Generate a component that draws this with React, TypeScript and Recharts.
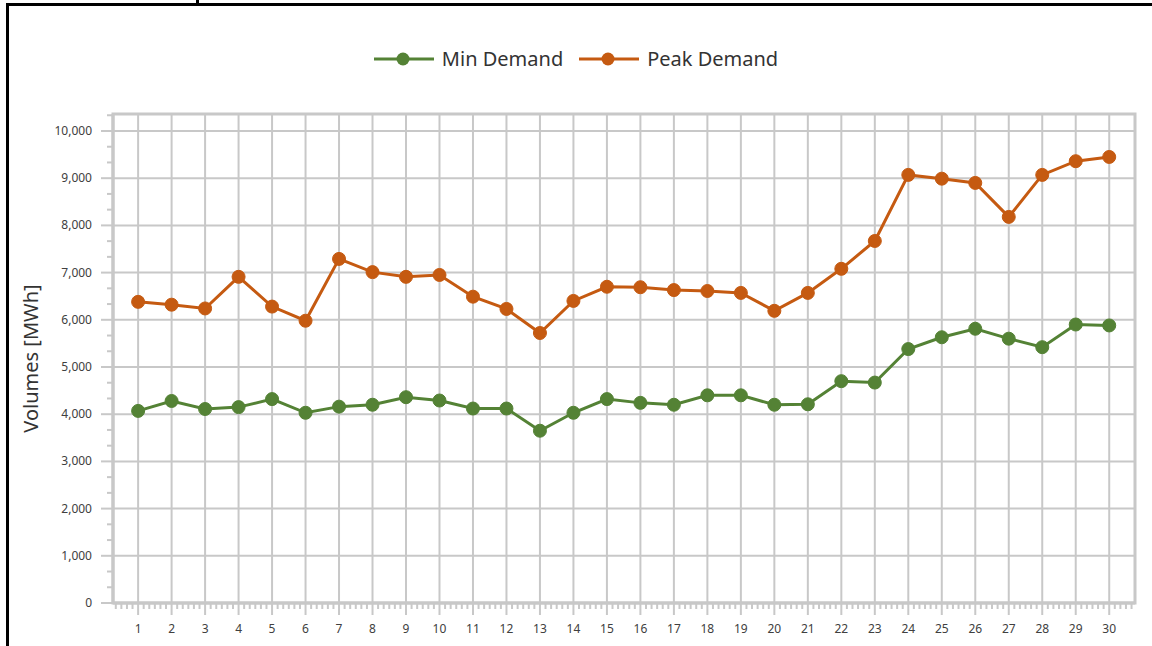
import React from 'react';
import { LineChart, Line, XAxis, YAxis, CartesianGrid, Legend, ReferenceArea } from 'recharts';

const days = [1, 2, 3, 4, 5, 6, 7, 8, 9, 10, 11, 12, 13, 14, 15, 16, 17, 18, 19, 20, 21, 22, 23, 24, 25, 26, 27, 28, 29, 30];
const minDemand = [4070, 4280, 4110, 4150, 4320, 4030, 4160, 4200, 4360, 4290, 4120, 4120, 3650, 4030, 4320, 4240, 4200, 4400, 4400, 4200, 4210, 4700, 4670, 5380, 5630, 5810, 5600, 5420, 5900, 5880];
const peakDemand = [6380, 6320, 6240, 6910, 6280, 5980, 7290, 7010, 6910, 6950, 6490, 6230, 5720, 6400, 6700, 6690, 6630, 6610, 6570, 6190, 6570, 7080, 7670, 9070, 8990, 8900, 8180, 9070, 9360, 9450];
const yMajorTicks = [0, 1000, 2000, 3000, 4000, 5000, 6000, 7000, 8000, 9000, 10000];

const seriesNames = ['Min Demand', 'Peak Demand'];
const colors = ['#548235', '#C55A11'];
const GRID = '#c8c8c8';
const FONT = '"Noto Sans", sans-serif';

const X_DOMAIN: [number, number] = [0.25, 30.77];
const Y_DOMAIN: [number, number] = [0, 10360];

// minor tick positions (axis decoration)
const xTicks: number[] = [];
for (let k = 2; k <= 184; k++) {
  const v = k / 6;
  if (v > X_DOMAIN[0] && v < X_DOMAIN[1]) xTicks.push(v);
}
const yTicks: number[] = [];
for (let k = 0; k <= 31; k++) {
  const v = (k * 1000) / 3;
  if (v <= Y_DOMAIN[1]) yTicks.push(v);
}

const data = days.map((d, i) => ({ day: d, min: minDemand[i], peak: peakDemand[i] }));

const isMajor = (v: number, step: number) => Math.abs(v / step - Math.round(v / step)) < 1e-6;

const XTick = (props: any) => {
  const { x, y, payload } = props;
  const v = payload.value;
  const major = isMajor(v, 1);
  return (
    <g>
      <line x1={x} x2={x} y1={y} y2={y + (major ? 12 : 6)} stroke={GRID} strokeWidth={2} />
      {major && (
        <text x={x} y={y + 30} textAnchor="middle" fontSize={12} fontFamily={FONT} fill="#404040">
          {Math.round(v)}
        </text>
      )}
    </g>
  );
};

const YTick = (props: any) => {
  const { x, y, payload } = props;
  const v = payload.value;
  const major = isMajor(v, 1000);
  return (
    <g>
      <line x1={x - (major ? 12 : 6)} x2={x} y1={y} y2={y} stroke={GRID} strokeWidth={2} />
      {major && (
        <text x={x - 21} y={y + 4} textAnchor="end" fontSize={12} fontFamily={FONT} fill="#404040">
          {Math.round(v).toLocaleString('en-US')}
        </text>
      )}
    </g>
  );
};

const renderLegend = () => (
  <div style={{ display: 'flex', justifyContent: 'center', alignItems: 'center', fontFamily: FONT, fontSize: 20, color: '#333' }}>
    {seriesNames.map((name, i) => (
      <div key={name} style={{ display: 'flex', alignItems: 'center', marginRight: i === 0 ? 16 : 0 }}>
        <svg width={60} height={16} style={{ marginRight: 8 }}>
          <line x1={0} x2={60} y1={8} y2={8} stroke={colors[i]} strokeWidth={3} />
          <circle cx={29} cy={8} r={6.5} fill={colors[i]} />
        </svg>
        <span>{name}</span>
      </div>
    ))}
  </div>
);

const YLabel = (props: any) => {
  const vb = props.viewBox;
  const cx = 38;
  const cy = vb.y + vb.height / 2;
  return (
    <text x={cx} y={cy} transform={`rotate(-90 ${cx} ${cy})`} textAnchor="middle" fontSize={20} fontFamily={FONT} fill="#333">
      Volumes [MWh]
    </text>
  );
};

export default function App() {
  return (
    <div style={{ position: 'absolute', left: 0, top: 0, width: 1152, height: 646, background: '#fff', overflow: 'hidden' }}>
      <LineChart width={1152} height={646} data={data} margin={{ top: 114, right: 17, left: 13, bottom: 0 }}>
        <CartesianGrid stroke={GRID} strokeWidth={2} verticalValues={days} horizontalValues={yMajorTicks} />
        <XAxis
          dataKey="day"
          type="number"
          domain={X_DOMAIN}
          allowDataOverflow
          ticks={xTicks}
          interval={0}
          tick={<XTick />}
          tickLine={false}
          tickSize={0}
          tickMargin={0}
          axisLine={{ stroke: GRID, strokeWidth: 3 }}
          height={43}
        />
        <YAxis
          type="number"
          domain={Y_DOMAIN}
          allowDataOverflow
          ticks={yTicks}
          interval={0}
          tick={<YTick />}
          tickLine={false}
          tickSize={0}
          tickMargin={0}
          axisLine={{ stroke: GRID, strokeWidth: 3 }}
          width={100}
          label={{ content: <YLabel /> }}
        />
        <ReferenceArea x1={X_DOMAIN[0]} x2={X_DOMAIN[1]} y1={Y_DOMAIN[0]} y2={Y_DOMAIN[1]} fill="none" stroke={GRID} strokeWidth={3} ifOverflow="visible" />
        <Legend content={renderLegend} layout="horizontal" verticalAlign="middle" align="center" wrapperStyle={{ top: 45, left: 0, width: 1152 }} />
        <Line type="linear" dataKey="min" name={seriesNames[0]} stroke={colors[0]} strokeWidth={3} dot={{ r: 6.5, fill: colors[0], stroke: colors[0], strokeWidth: 1 }} activeDot={false} isAnimationActive={false} />
        <Line type="linear" dataKey="peak" name={seriesNames[1]} stroke={colors[1]} strokeWidth={3} dot={{ r: 6.5, fill: colors[1], stroke: colors[1], strokeWidth: 1 }} activeDot={false} isAnimationActive={false} />
      </LineChart>
      <div style={{ position: 'absolute', left: 6, top: 3, width: 1146, height: 3, background: '#000' }} />
      <div style={{ position: 'absolute', left: 6, top: 3, width: 3, height: 643, background: '#000' }} />
      <div style={{ position: 'absolute', left: 196, top: 0, width: 3, height: 4, background: '#000' }} />
    </div>
  );
}
